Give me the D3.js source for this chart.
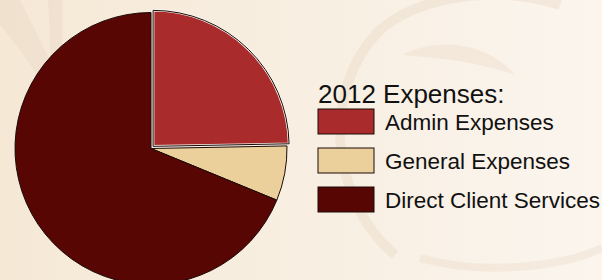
<!DOCTYPE html>
<html>
<head>
<meta charset="utf-8">
<style>
  body { margin: 0; background: #f6ebdb; }
  svg { display: block; }
  text { font-family: 'Liberation Sans', Arial, sans-serif; fill: #111; }
</style>
</head>
<body>
<svg id="chart" width="602" height="280"></svg>
<script src="https://d3js.org/d3.v7.min.js"></script>
<script>
  var categories = ["Admin Expenses", "General Expenses", "Direct Client Services"];
  var values = [24.7, 6.5, 68.8];
  var colors = ["#aa2b2c", "#ecd09c", "#570603"];
  var legendTitle = "2012 Expenses:";

  var svg = d3.select("#chart");
  var width = 602, height = 280;

  // background
  var defs = svg.append("defs");
  var grad = defs.append("linearGradient").attr("id", "bg").attr("x1", 0).attr("x2", 1).attr("y1", 0).attr("y2", 0);
  grad.append("stop").attr("offset", "0%").attr("stop-color", "#f5e8d5");
  grad.append("stop").attr("offset", "100%").attr("stop-color", "#fbf5ee");
  svg.append("rect").attr("width", width).attr("height", height).attr("fill", "url(#bg)");

  // faint swirl decoration
  var deco = svg.append("g").attr("fill", "#e9d6c4").attr("opacity", 0.35);
  deco.append("path").attr("d", "M0,25 C30,60 60,110 95,160 C70,100 45,50 20,0 L0,0 Z");
  deco.append("path").attr("d", "M48,0 C52,50 50,110 46,170 C60,110 64,50 62,0 Z");
  deco.append("path").attr("d", "M403,55 C440,35 490,45 515,75 C480,62 440,58 403,55 Z");
  svg.append("path")
    .attr("d", "M395,255 C330,200 320,90 380,30 C420,-5 500,-15 560,5")
    .attr("fill", "none").attr("stroke", "#e9d6c4").attr("stroke-width", 10).attr("opacity", 0.4);
  svg.append("path")
    .attr("d", "M420,258 C480,275 560,268 602,248")
    .attr("fill", "none").attr("stroke", "#e9d6c4").attr("stroke-width", 8).attr("opacity", 0.35);

  // pie
  var cx = 151, cy = 148.5, r = 136;
  var pie = d3.pie().sort(null).value(function(d){ return d; });
  var arc = d3.arc().innerRadius(0).outerRadius(r);
  var arcs = pie(values);

  var shift = function(d){
    var a = (d.startAngle + d.endAngle) / 2;
    return "translate(" + (Math.sin(a) * 3) + "," + (-Math.cos(a) * 3) + ")";
  };

  var g = svg.append("g").attr("transform", "translate(" + cx + "," + cy + ")");
  g.selectAll("path.slice").data(arcs).join("path")
    .attr("class", "slice")
    .attr("d", arc)
    .attr("fill", function(d, i){ return colors[i]; })
    .attr("stroke", function(d, i){ return i === 0 ? "#fbf6ee" : "#1a0a08"; })
    .attr("stroke-width", function(d, i){ return i === 0 ? 2.5 : 1; })
    .attr("transform", function(d, i){ return i === 0 ? shift(d) : null; });
  // dark outline on the exploded slice
  g.append("path").datum(arcs[0])
    .attr("d", arc)
    .attr("fill", "none")
    .attr("stroke", "#1a0a08")
    .attr("stroke-width", 1)
    .attr("transform", shift);

  // legend
  var lx = 318;
  svg.append("text").attr("x", lx).attr("y", 103)
    .style("font-size", "26px").text(legendTitle);

  var y = d3.scaleBand().domain(categories).range([109, 226]).paddingInner(0);
  var item = svg.append("g").selectAll("g").data(categories).join("g")
    .attr("transform", function(d){ return "translate(" + lx + "," + y(d) + ")"; });
  item.append("rect")
    .attr("width", 56).attr("height", 25)
    .attr("fill", function(d, i){ return colors[i]; })
    .attr("stroke", "#1a0a08").attr("stroke-width", 1);
  item.append("text")
    .attr("x", 67).attr("y", 21)
    .style("font-size", "22.5px")
    .text(function(d){ return d; });
</script>
</body>
</html>
